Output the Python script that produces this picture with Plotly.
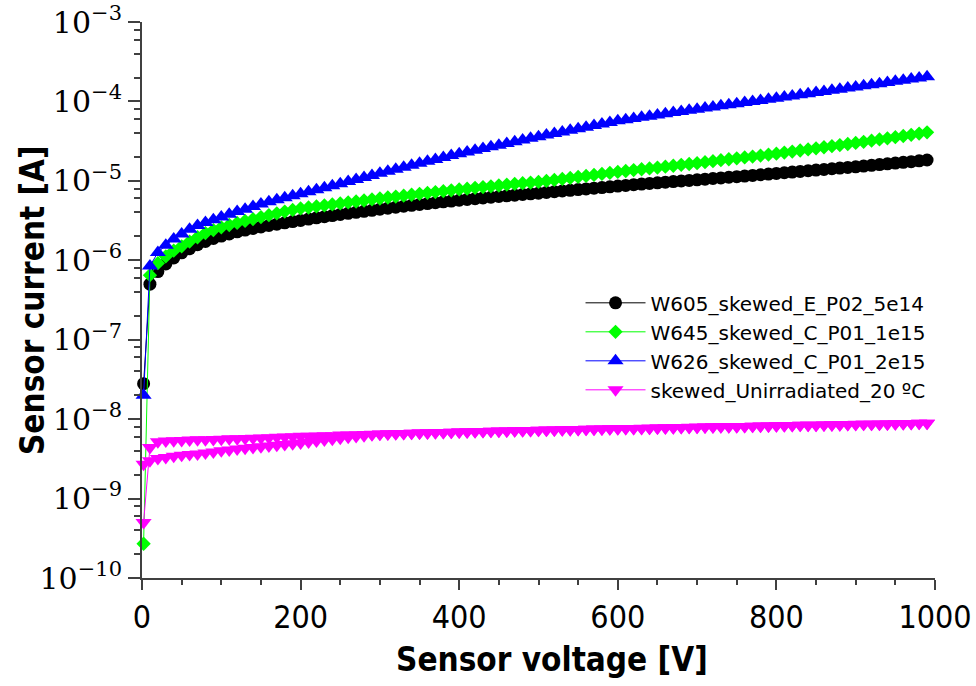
import plotly.graph_objects as go

# ---- data ----
# voltage grid of the IV scans [V]
V = [2] + list(range(10, 1000, 10))

# W605_skewed_E_P02_5e14  [uA]
I_W605_uA = [0.028, 0.50, 0.72, 0.90, 1.07, 1.24, 1.40, 1.57, 1.73, 1.88,
             2.02, 2.15, 2.28, 2.40, 2.52, 2.63, 2.74, 2.85, 2.96, 3.07,
             3.18, 3.30, 3.42, 3.54, 3.66, 3.78, 3.90, 4.02, 4.14, 4.26,
             4.40, 4.53, 4.66, 4.79, 4.92, 5.05, 5.18, 5.31, 5.44, 5.57,
             5.70, 5.83, 5.96, 6.09, 6.22, 6.35, 6.48, 6.61, 6.74, 6.87,
             7.00, 7.15, 7.30, 7.45, 7.60, 7.76, 7.92, 8.08, 8.24, 8.42,
             8.60, 8.77, 8.94, 9.11, 9.28, 9.45, 9.62, 9.79, 9.96, 10.13,
             10.30, 10.50, 10.70, 10.90, 11.10, 11.30, 11.50, 11.72, 11.94, 12.16,
             12.40, 12.65, 12.90, 13.15, 13.40, 13.65, 13.90, 14.20, 14.50, 14.75,
             15.00, 15.35, 15.70, 16.05, 16.40, 16.75, 17.10, 17.45, 17.85, 18.30]

# W645_skewed_C_P01_1e15  [uA]
I_W645_uA = [0.00027, 0.65, 0.92, 1.12, 1.32, 1.50, 1.72, 1.95, 2.20, 2.40,
             2.60, 2.78, 2.95, 3.13, 3.30, 3.50, 3.70, 3.90, 4.10, 4.30,
             4.50, 4.62, 4.76, 4.90, 5.05, 5.20, 5.35, 5.50, 5.66, 5.83,
             6.00, 6.17, 6.34, 6.51, 6.68, 6.86, 7.04, 7.22, 7.41, 7.60,
             7.80, 7.98, 8.16, 8.35, 8.54, 8.74, 8.94, 9.14, 9.34, 9.52,
             9.70, 9.98, 10.27, 10.57, 10.88, 11.20, 11.53, 11.87, 12.22, 12.58,
             12.95, 13.30, 13.65, 14.00, 14.35, 14.70, 15.10, 15.50, 15.90, 16.30,
             16.70, 17.20, 17.70, 18.20, 18.70, 19.20, 19.70, 20.20, 20.80, 21.40,
             22.00, 22.70, 23.40, 24.10, 24.90, 25.70, 26.50, 27.30, 28.20, 29.10,
             30.00, 31.00, 32.10, 33.20, 34.30, 35.50, 36.70, 38.00, 39.40, 40.80]

# W626_skewed_C_P01_2e15  [uA]
I_W626_uA = [0.020, 0.85, 1.25, 1.55, 1.85, 2.15, 2.45, 2.75, 3.00, 3.25,
             3.50, 3.80, 4.10, 4.40, 4.75, 5.10, 5.45, 5.80, 6.15, 6.50,
             6.90, 7.30, 7.75, 8.20, 8.70, 9.20, 9.80, 10.40, 11.00, 11.70,
             12.50, 13.20, 14.00, 14.80, 15.70, 16.60, 17.60, 18.60, 19.70, 20.80,
             22.00, 23.10, 24.30, 25.50, 26.80, 28.10, 29.50, 31.00, 32.60, 34.30,
             36.00, 37.70, 39.50, 41.30, 43.30, 45.30, 47.40, 49.70, 52.00, 54.40,
             57.00, 59.00, 61.00, 63.10, 65.30, 67.50, 69.90, 72.30, 74.80, 77.30,
             80.00, 82.60, 85.20, 88.00, 90.80, 93.80, 96.80, 99.90, 103.1, 106.5,
             110.0, 113.6, 117.4, 121.3, 125.3, 129.4, 133.7, 138.1, 142.6, 147.3,
             152.0, 157.0, 162.0, 167.5, 173.0, 179.0, 185.0, 191.0, 197.5, 204.0]

# skewed_Unirradiated_20 oC [nA] : up sweep and return sweep (listed ascending in V)
I_UNIRR_UP_nA = [0.50, 4.40, 5.20, 5.30, 5.35, 5.40, 5.45, 5.50, 5.50, 5.55,
                 5.60, 5.65, 5.65, 5.70, 5.75, 5.80, 5.85, 5.90, 5.95, 6.00,
                 6.10, 6.10, 6.15, 6.20, 6.20, 6.30, 6.30, 6.35, 6.40, 6.45,
                 6.50, 6.55, 6.60, 6.60, 6.65, 6.70, 6.75, 6.80, 6.80, 6.85,
                 6.90, 6.95, 7.00, 7.00, 7.05, 7.10, 7.10, 7.15, 7.20, 7.20,
                 7.25, 7.30, 7.30, 7.35, 7.40, 7.40, 7.45, 7.50, 7.50, 7.55,
                 7.60, 7.60, 7.65, 7.70, 7.70, 7.75, 7.80, 7.80, 7.85, 7.90,
                 7.90, 7.95, 8.00, 8.00, 8.05, 8.10, 8.10, 8.15, 8.20, 8.20,
                 8.25, 8.30, 8.30, 8.35, 8.40, 8.40, 8.45, 8.50, 8.50, 8.55,
                 8.60, 8.60, 8.65, 8.70, 8.70, 8.75, 8.80, 8.80, 8.85, 8.90]
I_UNIRR_DOWN_nA = [2.70, 3.00, 3.20, 3.30, 3.40, 3.50, 3.60, 3.65, 3.75, 3.85,
                   4.00, 4.10, 4.20, 4.30, 4.40, 4.50, 4.60, 4.70, 4.80, 4.90,
                   5.00, 5.15, 5.30, 5.45, 5.60, 5.75, 5.90, 6.05, 6.20, 6.35,
                   6.45, 6.50, 6.55, 6.60, 6.65, 6.70, 6.70, 6.75, 6.80, 6.85,
                   6.90, 6.90, 6.95, 7.00, 7.05, 7.05, 7.10, 7.15, 7.15, 7.20,
                   7.25, 7.25, 7.30, 7.35, 7.35, 7.40, 7.45, 7.45, 7.50, 7.55,
                   7.55, 7.60, 7.65, 7.65, 7.70, 7.75, 7.75, 7.80, 7.85, 7.85,
                   7.90, 7.95, 7.95, 8.00, 8.05, 8.05, 8.10, 8.15, 8.15, 8.20,
                   8.25, 8.25, 8.30, 8.35, 8.35, 8.40, 8.45, 8.45, 8.50, 8.55,
                   8.55, 8.60, 8.65, 8.65, 8.70, 8.75, 8.75, 8.80, 8.85, 8.85]

NAMES = ["W605_skewed_E_P02_5e14", "W645_skewed_C_P01_1e15",
         "W626_skewed_C_P01_2e15", "skewed_Unirradiated_20 ºC"]

X_TICKS = [0, 200, 400, 600, 800, 1000]
Y_EXP = [-10, -9, -8, -7, -6, -5, -4, -3]

# ---- figure ----
uA = 1e-6
nA = 1e-9
fig = go.Figure()

series = [
    (NAMES[0], V, [v * uA for v in I_W605_uA], "#000000", "circle", 13),
    (NAMES[1], V, [v * uA for v in I_W645_uA], "#00FF00", "diamond", 11),
    (NAMES[2], V, [v * uA for v in I_W626_uA], "#0000FF", "triangle-up", 14),
    (NAMES[3], V + V[::-1],
     [v * nA for v in I_UNIRR_UP_nA] + [v * nA for v in I_UNIRR_DOWN_nA[::-1]],
     "#FF00FF", "triangle-down", 14),
]
for name, xs, ys, col, sym, size in series:
    fig.add_trace(go.Scatter(
        x=xs, y=ys, name=name, mode="lines+markers",
        line=dict(color=col, width=1),
        marker=dict(color=col, symbol=sym, size=size, line=dict(width=0)),
        cliponaxis=False,
    ))

AXIS_COL = "#404040"
TITLE_FONT = dict(family="DejaVu Sans Condensed, DejaVu Sans", size=33, color="black")

minor_y = [m * 10.0 ** e for e in Y_EXP[:-1] for m in (2, 4, 6, 8)]

fig.update_xaxes(
    range=[0, 1000], showgrid=False, zeroline=False, automargin=False,
    showline=True, linecolor=AXIS_COL, linewidth=2,
    ticks="outside", ticklen=10, tickwidth=1.5, tickcolor=AXIS_COL,
    tickvals=X_TICKS, ticktext=[str(t) for t in X_TICKS],
    tickfont=dict(family="DejaVu Sans Condensed", size=32, color="black"),
    ticklabeloverflow="allow",
    minor=dict(ticks="outside", ticklen=5, tickwidth=1.5, tickcolor=AXIS_COL, dtick=50),
)
fig.update_yaxes(
    type="log", range=[-10, -3], showgrid=False, zeroline=False, automargin=False,
    showline=True, linecolor=AXIS_COL, linewidth=2,
    ticks="outside", ticklen=12, tickwidth=1.5, tickcolor=AXIS_COL,
    tickvals=[10.0 ** e for e in Y_EXP],
    ticktext=["10<sup>−%d</sup>" % (-e) for e in Y_EXP],
    tickfont=dict(family="DejaVu Serif", size=30, color="black"),
    ticklabeloverflow="allow",
    minor=dict(ticks="outside", ticklen=6, tickwidth=1.5, tickcolor=AXIS_COL, tickvals=minor_y),
)

fig.update_layout(
    width=976, height=686,
    margin=dict(l=142, r=41, t=22, b=108, autoexpand=False),
    plot_bgcolor="white", paper_bgcolor="white",
    legend=dict(
        x=0.553, y=0.53, xanchor="left", yanchor="top",
        bgcolor="rgba(0,0,0,0)", borderwidth=0,
        font=dict(family="DejaVu Sans", size=20, color="black"),
        itemwidth=60, tracegroupgap=0,
    ),
    annotations=[
        dict(text="<b>Sensor voltage [V]</b>", font=TITLE_FONT,
             xref="paper", yref="paper", x=0.517, y=-0.146,
             xanchor="center", yanchor="middle", showarrow=False),
        dict(text="<b>Sensor current [A]</b>", font=TITLE_FONT, textangle=-90,
             xref="paper", yref="paper", x=-0.1387, y=0.5,
             xanchor="center", yanchor="middle", showarrow=False),
    ],
    showlegend=True,
)

fig.write_html("out.html", config={"displayModeBar": False},
               post_script="document.body.style.margin='0';")
